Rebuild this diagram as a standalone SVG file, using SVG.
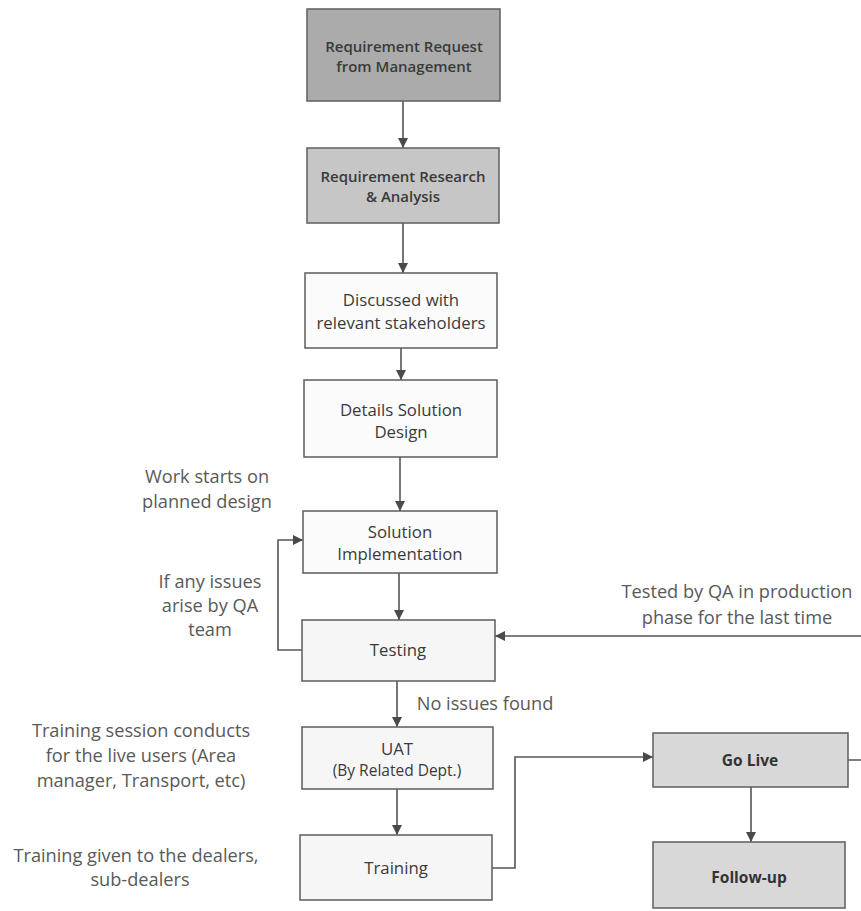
<svg xmlns="http://www.w3.org/2000/svg" width="861" height="911" viewBox="0 0 861 911">
<defs>
<marker id="ah" viewBox="0 0 10 10" refX="10" refY="5" markerWidth="10" markerHeight="10" markerUnits="userSpaceOnUse" orient="auto">
<path d="M0,0 L10,5 L0,10 Z" fill="#4a4a4a"/>
</marker>
</defs>
<style>
.box{stroke:#666;stroke-width:1.6;}
.bt{font-family:"Open Sans","Liberation Sans",sans-serif;font-size:16.8px;fill:#3a3a3a;text-anchor:middle;}
.bt2{font-family:"Open Sans","Liberation Sans",sans-serif;font-size:15px;fill:#3a3a3a;text-anchor:middle;font-weight:600;}
.bb{font-family:"Open Sans","Liberation Sans",sans-serif;font-size:15.5px;fill:#333;text-anchor:middle;font-weight:700;}
.lb{font-family:"Open Sans","Liberation Sans",sans-serif;font-size:18.2px;fill:#595959;text-anchor:middle;}
.cn{fill:none;stroke:#555;stroke-width:1.6;marker-end:url(#ah);}
</style>
<rect width="861" height="911" fill="#ffffff"/>

<g id="connectors">
<path class="cn" d="M403,101 V148"/>
<path class="cn" d="M403,223 V273"/>
<path class="cn" d="M401,348 V380"/>
<path class="cn" d="M400,457 V511"/>
<path class="cn" d="M399,573 V620"/>
<path class="cn" d="M397,681 V727"/>
<path class="cn" d="M397,789 V835"/>
<path class="cn" d="M302,650 H278 V540 H303"/>
<path class="cn" d="M492,868 H515 V757 H653"/>
<path class="cn" d="M751,787 V842"/>
<path class="cn" d="M848,760 H875 V636 H495"/>
</g>

<g id="n1">
<rect class="box" x="307" y="9" width="193" height="92" fill="#ababab"/>
<text class="bt2" x="404" y="52">Requirement Request</text>
<text class="bt2" x="404" y="72">from Management</text>
</g>
<g id="n2">
<rect class="box" x="307" y="148" width="192" height="75" fill="#c6c6c6"/>
<text class="bt2" x="403" y="182">Requirement Research</text>
<text class="bt2" x="403" y="202">&amp; Analysis</text>
</g>
<g id="n3">
<rect class="box" x="305" y="273" width="192" height="75" fill="#fbfbfb"/>
<text class="bt" x="401" y="306">Discussed with</text>
<text class="bt" x="401" y="329">relevant stakeholders</text>
</g>
<g id="n4">
<rect class="box" x="304" y="380" width="193" height="77" fill="#fbfbfb"/>
<text class="bt" x="401" y="416">Details Solution</text>
<text class="bt" x="401" y="438">Design</text>
</g>
<g id="n5">
<rect class="box" x="303" y="511" width="194" height="62" fill="#fbfbfb"/>
<text class="bt" x="400" y="538">Solution</text>
<text class="bt" x="400" y="560">Implementation</text>
</g>
<g id="n6">
<rect class="box" x="302" y="620" width="193" height="61" fill="#f6f6f6"/>
<text class="bt" x="398" y="656">Testing</text>
</g>
<g id="n7">
<rect class="box" x="302" y="727" width="191" height="62" fill="#f6f6f6"/>
<text class="bt" x="397" y="755">UAT</text>
<text class="bt" x="397" y="776" style="font-size:15.5px">(By Related Dept.)</text>
</g>
<g id="n8">
<rect class="box" x="300" y="835" width="192" height="65" fill="#f6f6f6"/>
<text class="bt" x="396" y="874">Training</text>
</g>
<g id="n9">
<rect class="box" x="653" y="733" width="195" height="54" fill="#d8d8d8"/>
<text class="bb" x="750" y="766">Go Live</text>
</g>
<g id="n10">
<rect class="box" x="653" y="842" width="192" height="66" fill="#d8d8d8"/>
<text class="bb" x="749" y="883">Follow-up</text>
</g>

<g id="labels">
<text class="lb" x="207" y="483">Work starts on</text>
<text class="lb" x="207" y="508">planned design</text>
<text class="lb" x="210" y="588">If any issues</text>
<text class="lb" x="210" y="612">arise by QA</text>
<text class="lb" x="210" y="636">team</text>
<text class="lb" x="737" y="598">Tested by QA in production</text>
<text class="lb" x="737" y="624">phase for the last time</text>
<text class="lb" x="485" y="710">No issues found</text>
<text class="lb" x="141" y="737">Training session conducts</text>
<text class="lb" x="141" y="762">for the live users (Area</text>
<text class="lb" x="141" y="787">manager, Transport, etc)</text>
<text class="lb" x="136" y="862">Training given to the dealers,</text>
<text class="lb" x="140" y="886">sub-dealers</text>
</g>
</svg>
